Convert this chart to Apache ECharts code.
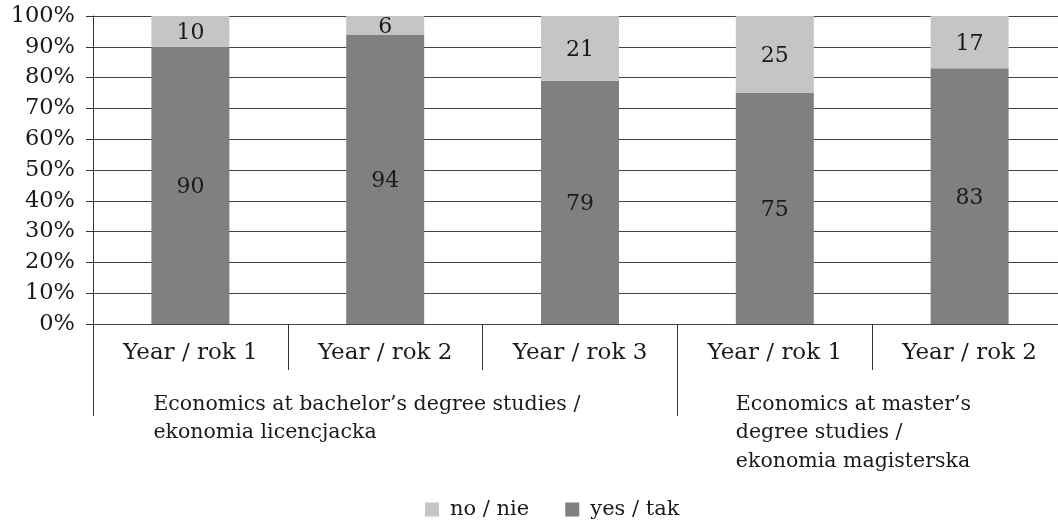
<!DOCTYPE html>
<html>
<head>
<meta charset="utf-8">
<script src="https://cdn.jsdelivr.net/npm/echarts@6/dist/echarts.min.js"></script>
<style>
  html, body { margin: 0; padding: 0; background: #fff; }
  #chart { width: 1058px; height: 522px; }
</style>
</head>
<body>
<div id="chart"></div>
<script>
// data
const years = ['Year / rok 1', 'Year / rok 2', 'Year / rok 3', 'Year / rok 1', 'Year / rok 2'];
const groups = ['Economics at bachelor’s degree studies /\nekonomia licencjacka',
                'Economics at master’s\ndegree studies /\nekonomia magisterska'];
const groupStarts = [0, 3, 5];        // category index where each group begins
const yesValues = [90, 94, 79, 75, 83];
const noValues = [10, 6, 21, 25, 17];

const font = 'DejaVu Serif';
const txt = '#1a1a1a';

const chart = echarts.init(document.getElementById('chart'));

chart.setOption({
  animation: false,
  textStyle: { fontFamily: font },
  grid: { left: 93, top: 16, width: 974, height: 308, outerBoundsMode: 'none' },
  legend: {
    left: 420,
    bottom: -3,
    icon: 'rect',
    itemWidth: 14,
    itemHeight: 14,
    itemGap: 36,
    textStyle: { fontFamily: font, fontSize: 21, color: txt, padding: [0, 0, 0, 6] },
    data: ['no / nie', 'yes / tak']
  },
  xAxis: [
    {
      type: 'category',
      data: years,
      axisLine: { show: false },
      axisTick: { show: true, length: 46, lineStyle: { color: '#333' } },
      axisLabel: { fontFamily: font, fontSize: 23, color: txt, margin: 18 }
    },
    {
      type: 'value',
      min: 0,
      max: years.length,
      position: 'bottom',
      axisLine: { show: false },
      splitLine: { show: false },
      axisTick: { show: true, length: 92, customValues: groupStarts, lineStyle: { color: '#333' } },
      axisLabel: {
        customValues: [0.31, 3.3],
        formatter: function (v) { return v < 3 ? groups[0] : groups[1]; },
        align: 'left',
        fontFamily: font, fontSize: 20.5, color: txt, lineHeight: 28.5,
        margin: 66
      }
    }
  ],
  yAxis: {
    type: 'value',
    min: 0,
    max: 100,
    interval: 10,
    axisLine: { show: true, lineStyle: { color: '#333' } },
    axisTick: { show: true, length: 7, lineStyle: { color: '#333' } },
    splitLine: { lineStyle: { color: '#444', width: 1 } },
    axisLabel: { formatter: '{value}%', fontFamily: font, fontSize: 22.5, color: txt, margin: 18 }
  },
  series: [
    {
      name: 'yes / tak',
      type: 'bar',
      stack: 'all',
      barWidth: 78,
      data: yesValues,
      itemStyle: { color: '#808080' },
      label: { show: true, position: 'inside', offset: [0, 2], fontFamily: font, fontSize: 22, color: txt }
    },
    {
      name: 'no / nie',
      type: 'bar',
      stack: 'all',
      barWidth: 78,
      data: noValues,
      itemStyle: { color: '#c5c5c5' },
      label: { show: true, position: 'inside', offset: [0, 2], fontFamily: font, fontSize: 22, color: txt }
    }
  ]
});
</script>
</body>
</html>
